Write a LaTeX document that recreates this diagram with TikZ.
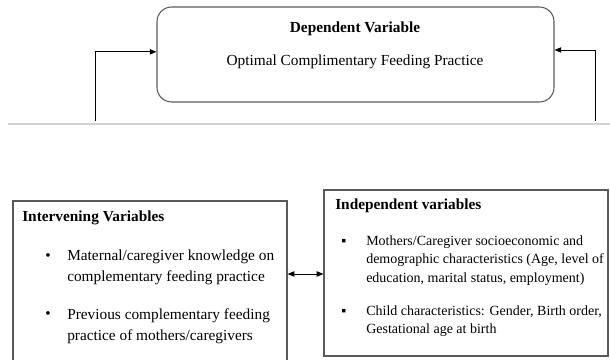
\documentclass[tikz,border=0pt]{standalone}
\usepackage{fontspec}
\setmainfont{Liberation Serif}
\usetikzlibrary{arrows.meta, positioning, calc}
\definecolor{boxline}{HTML}{5A5A5A}
\definecolor{pagebreak}{HTML}{D4D4D4}

\begin{document}
\begin{tikzpicture}[x=0.75pt, y=-0.75pt,
  depbox/.style={draw=boxline, line width=0.8pt, rounded corners=11pt,
                 minimum width=297.75pt, minimum height=71.25pt},
  varbox/.style={draw=boxline, line width=0.9pt,
                 minimum width=213pt, minimum height=124.5pt},
  head/.style={font=\fontsize{11.5}{14}\selectfont\bfseries, inner sep=0pt},
  body/.style={font=\fontsize{11.5}{14}\selectfont, inner sep=0pt},
  lbody/.style={font=\fontsize{11.5}{15.75}\selectfont, align=left,
                inner sep=0pt, anchor=west},
  rbody/.style={font=\fontsize{10.5}{13.9}\selectfont, align=left,
                inner sep=0pt, anchor=west},
  link/.style={-{Triangle[length=5pt,width=4pt]}, line width=0.6pt},
  both/.style={{Triangle[length=5pt,width=4pt]}-{Triangle[length=5pt,width=4pt]},
               line width=0.6pt}]
  \useasboundingbox (0,0) rectangle (610,360);
  \clip (0,0) rectangle (610,360);

  % dependent variable
  \node[depbox] (dep) at (355.5,54.5) {};
  \node[head] (deptitle) at (355,29) {Dependent Variable};
  \node[body] (deptext) at (355,62) {Optimal Complimentary Feeding Practice};

  % page break rule
  \draw[pagebreak, line width=1.5pt] (8,124) -- (610,124);

  % intervening variables
  \node[varbox, minimum width=205.5pt, minimum height=149.25pt] (int) at (150,300.5) {};
  \node[head, anchor=west] (inttitle) at (22,218) {Intervening Variables};
  \node[body] (intb1) at (48,257) {\textbullet};
  \node[lbody] (int1) at (67,267.5)
    {Maternal/caregiver knowledge on\\complementary feeding practice};
  \node[body] (intb2) at (48,315) {\textbullet};
  \node[lbody] (int2) at (67,326)
    {Previous complementary feeding\\practice of mothers/caregivers};

  % independent variables
  \node[varbox] (ind) at (466,273) {};
  \node[head, anchor=west] (indtitle) at (335,206) {Independent variables};
  \node[rbody] (indb1) at (341,242) {▪};
  \node[rbody] (ind1) at (366,260.5)
    {Mothers/Caregiver socioeconomic and\\demographic characteristics (Age, level of\\education, marital status, employment)};
  \node[rbody] (indb2) at (341,312) {▪};
  \node[rbody] (ind2) at (366,321)
    {Child characteristics: Gender, Birth order,\\Gestational age at birth};

  % connectors
  \coordinate (lft) at (95,121);
  \coordinate (rgt) at (595,121);
  \coordinate (mid) at (305,274);
  \draw[link] (lft) |- ([yshift=2pt]dep.west);
  \draw[link] (rgt) |- ([yshift=3.4pt]dep.east);
  \draw[both] (mid -| int.east) -- (mid -| ind.west);
\end{tikzpicture}
\end{document}
